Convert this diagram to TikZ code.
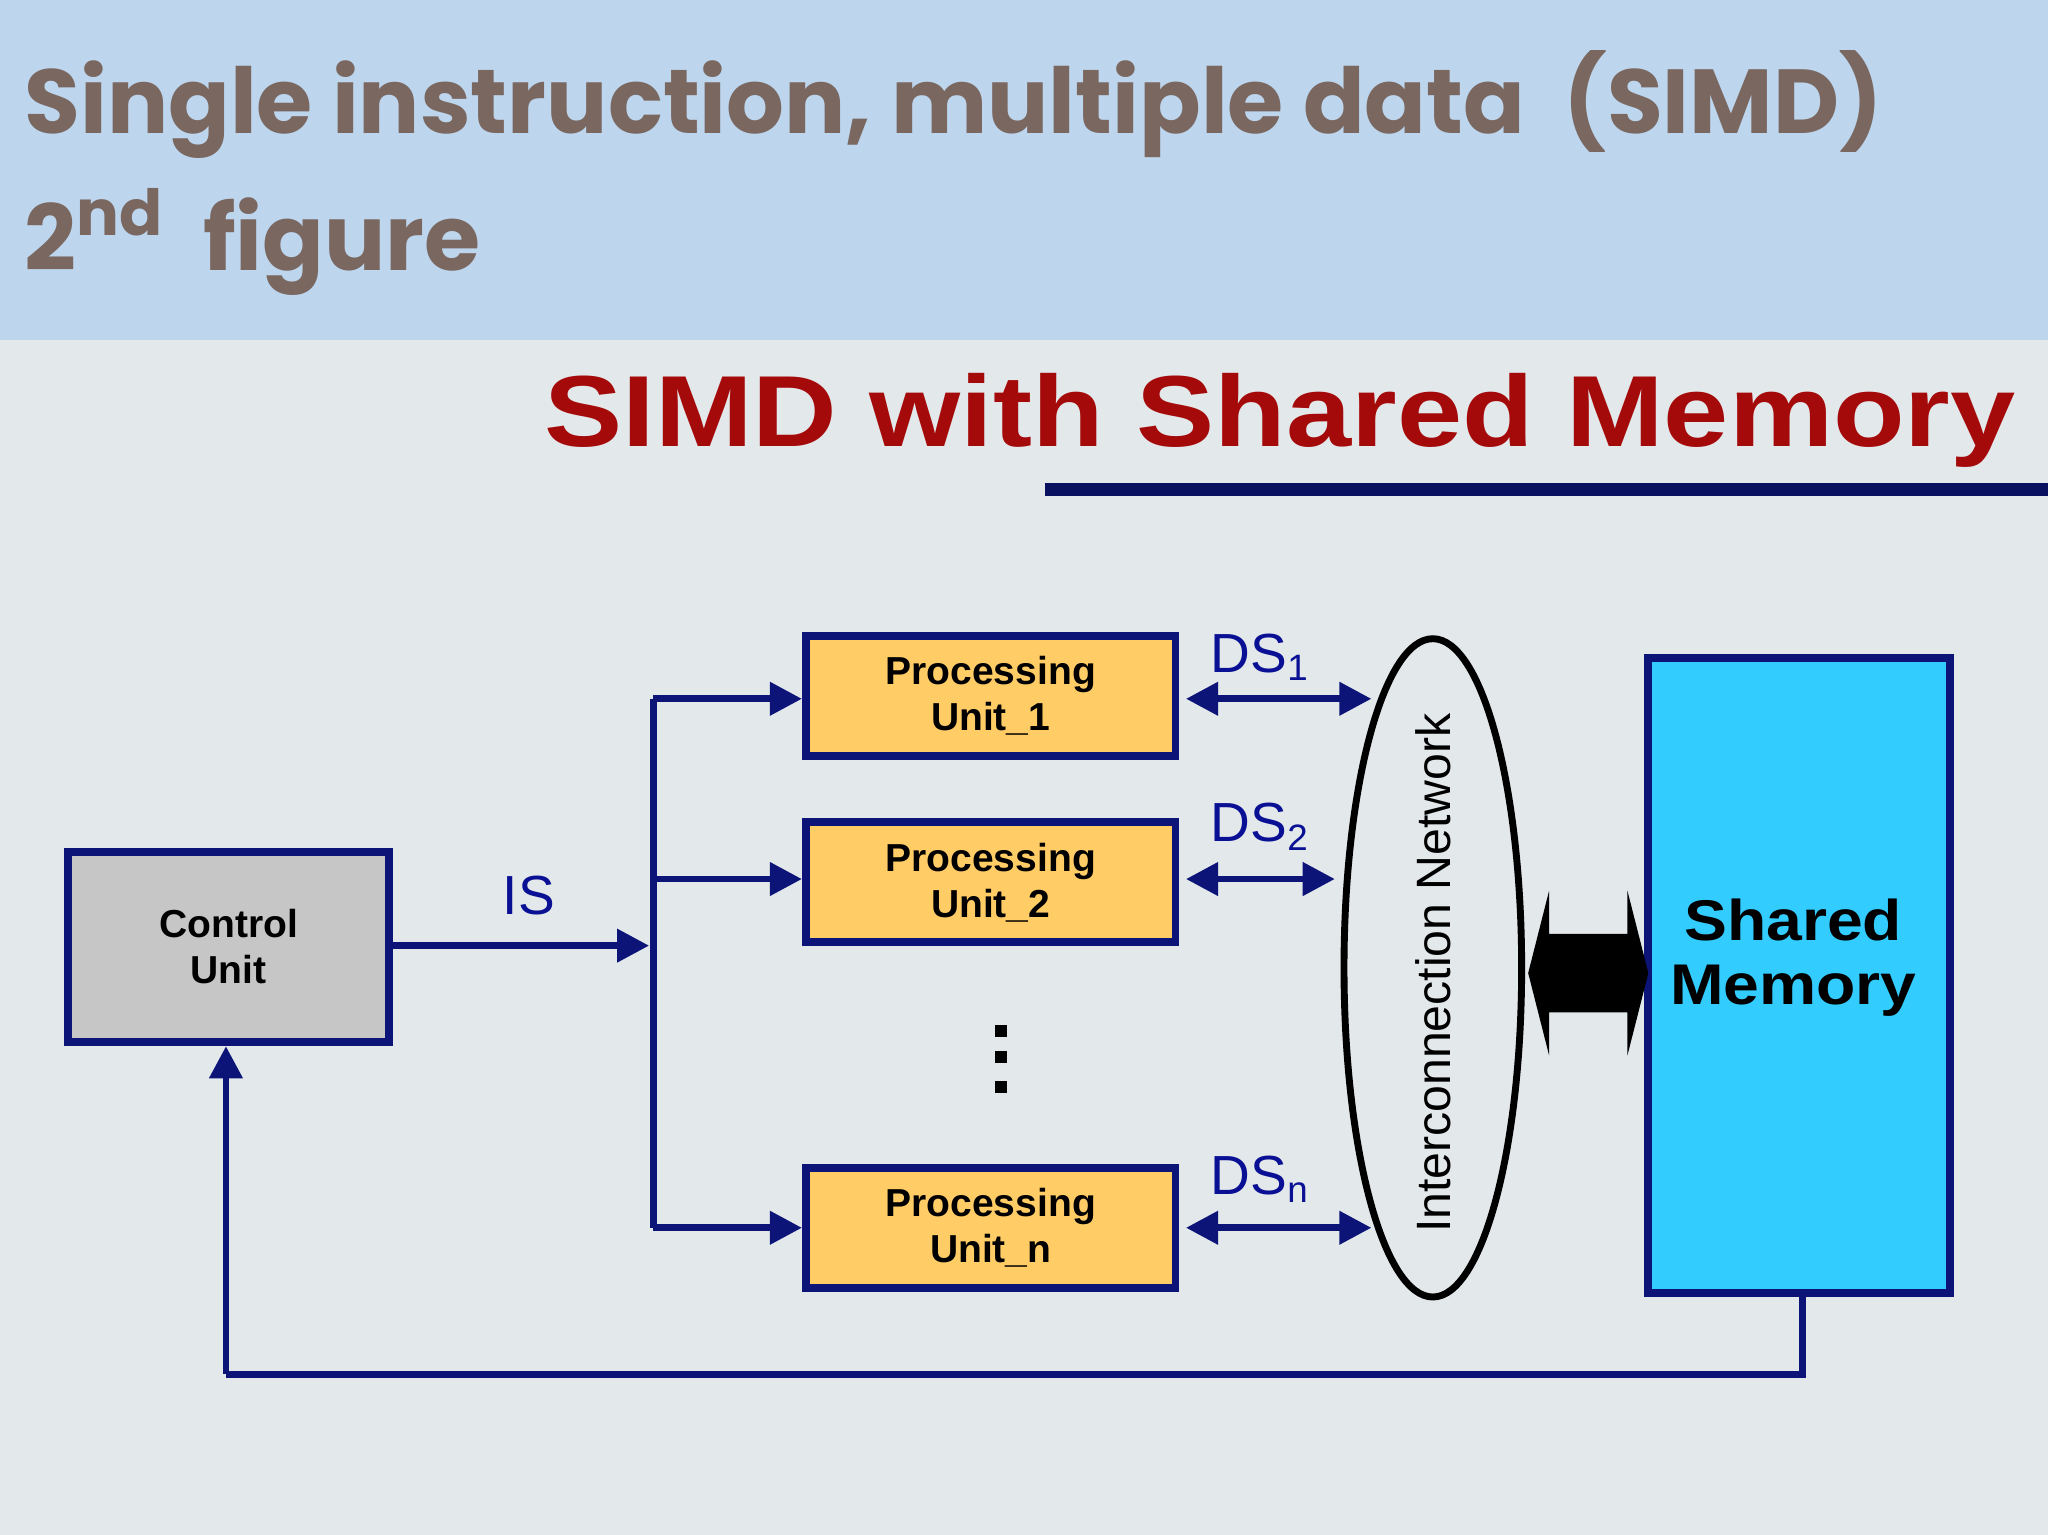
\documentclass[tikz,border=0pt]{standalone}
\usepackage{fontspec}
\setmainfont{Liberation Sans}
\newfontfamily\popp{Poppins}
\usetikzlibrary{arrows.meta,shapes.geometric}
\definecolor{navy}{HTML}{0C1478}
\definecolor{band}{HTML}{BDD6EE}
\definecolor{bg}{HTML}{E3E8EB}
\definecolor{ttl}{HTML}{7A6760}
\definecolor{red}{HTML}{A50A0A}
\definecolor{pu}{HTML}{FFCC66}
\definecolor{sm}{HTML}{33CCFF}
\begin{document}
\begin{tikzpicture}[x=1cm,y=1cm,
  box/.style={draw=navy,line width=1.7pt,font=\fontsize{8.5}{10}\selectfont\bfseries,align=center,inner sep=0},
  pu/.style={box,fill=pu,minimum width=2.83cm,minimum height=0.92cm},
  ln/.style={navy,line width=1.5pt},
  arr/.style={ln,-{Triangle[length=7pt,width=7pt]}},
  darr/.style={ln,{Triangle[length=7pt,width=7pt]}-{Triangle[length=7pt,width=7pt]}},
  lbl/.style={text=navy!80!blue,font=\fontsize{10}{12}\selectfont}]
\useasboundingbox (0,0) rectangle (15.68,-11.75);
\fill[bg] (0,0) rectangle (15.68,-11.75);
\fill[band] (0,0) rectangle (15.68,-2.6);
\node[anchor=base west,text=ttl,font=\popp\bfseries\fontsize{19.8}{24}\selectfont,inner sep=0] (t1) at (0.18,-1.02) {Single instruction, multiple data\ \ (SIMD)};
\node[anchor=base west,text=ttl,font=\popp\bfseries\fontsize{19.8}{24}\selectfont,inner sep=0] (t2) at (0.18,-2.07) {2\textsuperscript{nd}\ \ figure};
\node[anchor=center,text=red,font=\bfseries\fontsize{22}{26}\selectfont,inner sep=0,xscale=1.16] (t3) at (9.8,-3.22) {SIMD with Shared Memory};
\fill[navy!80!black] (8.0,-3.70) rectangle (15.68,-3.80);
% nodes
\node[box,fill=gray!45,minimum width=2.46cm,minimum height=1.46cm] (cu) at (1.75,-7.25) {Control\\Unit};
\node[pu] (p1) at (7.585,-5.33) {Processing\\Unit\_1};
\node[pu] (p2) at (7.585,-6.755) {Processing\\Unit\_2};
\node[pu] (pn) at (7.585,-9.40) {Processing\\Unit\_n};
\node[box,fill=sm,minimum width=2.31cm,minimum height=4.86cm] (sm) at (13.775,-7.47) {};
\node[font=\fontsize{12.5}{14}\selectfont\bfseries,align=center,xscale=1.12] (smt) at (13.73,-7.33) {Shared\\Memory};
\node[draw=black,line width=1.5pt,ellipse,minimum width=1.36cm,minimum height=5.04cm] (net) at (10.97,-7.41) {};
\node[rotate=90,font=\fontsize{10.5}{12}\selectfont] (nett) at (10.97,-7.45) {Interconnection Network};
\foreach \y [count=\i] in {7.85,8.05,8.28}\fill (7.62,-\y) coordinate (d\i) rectangle ++(0.09,-0.09);
% bus
\coordinate (b1) at (5.0,-5.35);
\coordinate (b2) at (5.0,-6.73);
\coordinate (bn) at (5.0,-9.40);
\coordinate (bi) at (5.0,-7.24);
\draw[arr] (cu.east|-bi) -- (4.97,-7.24) coordinate (ise);
\node[lbl,font=\fontsize{12}{14}\selectfont] (is) at (4.05,-6.86) {IS};
\draw[ln] (b1) -- (bn);
\draw[arr] (b1) -- (p1.west|-b1);
\draw[arr] (b2) -- (p2.west|-b2);
\draw[arr] (bn) -- (pn.west|-bn);
\coordinate (e1) at (10.5,-5.35);
\coordinate (e2) at (10.22,-6.73);
\coordinate (en) at (10.5,-9.40);
\draw[darr] (p1.east|-e1) ++(0.05,0) -- (e1);
\draw[darr] (p2.east|-e2) ++(0.05,0) -- (e2);
\draw[darr] (pn.east|-en) ++(0.05,0) -- (en);
\node[lbl,font=\fontsize{12}{14}\selectfont] (l1) at (9.65,-5.03) {DS\textsubscript{1}};
\node[lbl,font=\fontsize{12}{14}\selectfont] (l2) at (9.65,-6.33) {DS\textsubscript{2}};
\node[lbl,font=\fontsize{12}{14}\selectfont] (ln) at (9.65,-9.03) {DS\textsubscript{n}};
% big double arrow
\fill[black] (11.70,-7.45) -- (11.86,-6.82) -- (11.86,-7.15) -- (12.46,-7.15) -- (12.46,-6.82) -- (12.62,-7.45) -- (12.46,-8.08) -- (12.46,-7.75) -- (11.86,-7.75) -- (11.86,-8.08) -- cycle;
% feedback
\coordinate (f1) at (13.80,-10.52);
\coordinate (f2) at (1.73,-10.52);
\draw[ln] (sm.south-|f1) -- (f1) -- (f2);
\draw[arr] (f2) -- (cu.south-|f2);
\end{tikzpicture}
\end{document}
